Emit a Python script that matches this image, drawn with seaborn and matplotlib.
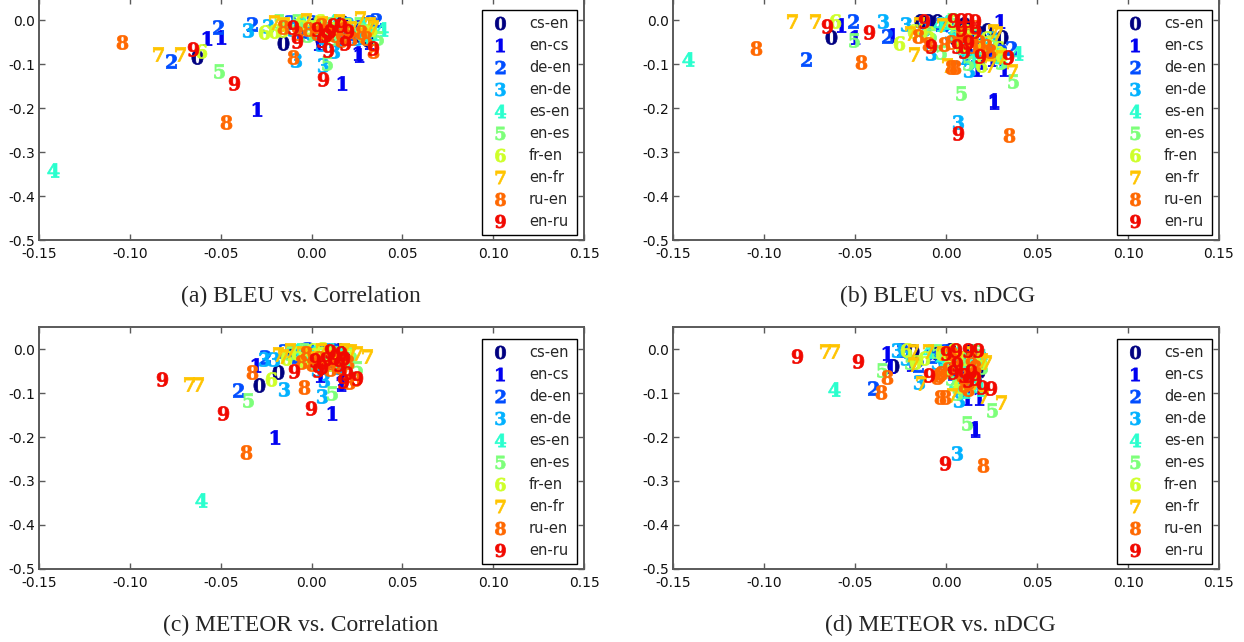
import matplotlib
matplotlib.use("Agg")
import matplotlib.pyplot as plt
from matplotlib.lines import Line2D
import seaborn as sns
import pandas as pd

# language pairs, in digit order 0-9
PAIRS = ["cs-en", "en-cs", "de-en", "en-de", "es-en",
         "en-es", "fr-en", "en-fr", "ru-en", "en-ru"]

CAPTIONS = ["(a) BLEU vs. Correlation", "(b) BLEU vs. nDCG",
            "(c) METEOR vs. Correlation", "(d) METEOR vs. nDCG"]

X_TICKS = [-0.15, -0.10, -0.05, 0.00, 0.05, 0.10, 0.15]
Y_TICKS = [-0.5, -0.4, -0.3, -0.2, -0.1, 0.0]

# (x, y) points per language pair for each panel
BLEU_CORR = {
    0: [(-0.063, -0.083), (-0.0155, -0.052), (-0.0063, -0.019), (0.002, -0.008), (0.008, -0.030),
        (0.014, -0.015), (0.020, -0.025), (0.026, -0.035), (0.031, -0.045), (0.005, -0.045),
        (0.017, -0.005), (0.030, -0.010)],
    1: [(-0.0577, -0.042), (-0.050, -0.0375), (-0.0298, -0.203), (0.0166, -0.144), (0.0258, -0.076),
        (0.0037, -0.053), (0.0318, -0.049), (0.020, -0.040), (0.010, -0.030), (0.025, -0.015),
        (-0.005, -0.010), (0.026, -0.079), (0.015, -0.020)],
    2: [(-0.0775, -0.0925), (-0.0513, -0.017), (-0.0329, -0.010), (0.0355, 0.0), (-0.012, -0.005),
        (0.000, -0.005), (0.010, -0.020), (0.022, -0.030), (0.028, -0.025), (0.015, -0.040),
        (-0.005, -0.025), (0.033, -0.005)],
    3: [(-0.0348, -0.023), (-0.0238, -0.014), (-0.0085, -0.090), (0.0065, -0.102), (0.0125, -0.070),
        (0.005, -0.055), (0.015, -0.045), (-0.010, -0.020), (0.000, -0.030), (0.025, -0.040),
        (0.020, -0.010), (0.030, -0.030)],
    4: [(-0.1423, -0.341), (0.0386, -0.021), (0.034, -0.030), (-0.005, -0.005), (0.005, -0.010),
        (0.012, -0.003), (0.020, -0.020), (0.028, -0.012), (-0.015, -0.008), (0.003, -0.025),
        (0.030, -0.040)],
    5: [(-0.0509, -0.117), (0.0084, -0.098), (0.0368, -0.042), (-0.018, -0.003), (-0.008, -0.002),
        (0.002, -0.015), (0.010, -0.008), (0.018, -0.030), (0.026, -0.008), (0.030, -0.025),
        (0.012, -0.040), (-0.002, -0.035)],
    6: [(-0.0608, -0.070), (-0.0261, -0.028), (-0.0206, -0.025), (-0.016, -0.022), (-0.006, -0.005),
        (0.004, -0.002), (0.012, -0.020), (0.019, -0.012), (0.027, -0.030), (0.033, -0.020),
        (0.008, -0.035), (-0.002, -0.015)],
    7: [(-0.0843, -0.078), (-0.0724, -0.078), (-0.0206, -0.004), (0.0267, 0.004), (-0.015, -0.008),
        (-0.003, 0.000), (0.006, -0.006), (0.015, -0.003), (0.022, -0.018), (0.032, -0.008),
        (0.028, -0.035), (0.010, -0.028), (0.034, -0.015)],
    8: [(-0.1045, -0.049), (-0.047, -0.231), (-0.0159, -0.017), (-0.0103, -0.085), (0.0337, -0.071),
        (-0.002, -0.020), (0.003, -0.030), (0.008, -0.025), (0.013, -0.035), (0.018, -0.020),
        (0.022, -0.040), (0.027, -0.028), (0.005, -0.012), (0.016, -0.045), (0.030, -0.040),
        (-0.008, -0.030)],
    9: [(-0.0654, -0.066), (-0.0427, -0.144), (-0.010, -0.017), (-0.0081, -0.048), (0.0065, -0.133),
        (0.0092, -0.068), (0.0184, -0.053), (0.0337, -0.064), (0.012, -0.011), (0.016, -0.012),
        (0.008, -0.035), (0.006, -0.045), (0.010, -0.025), (0.020, -0.025), (0.003, -0.020)],
}

BLEU_NDCG = {
    0: [(-0.0632, -0.038), (-0.0142, -0.002), (-0.0097, -0.002), (-0.005, -0.002), (0.0227, -0.023),
        (0.0305, -0.038), (0.010, -0.010), (0.018, -0.030), (0.005, -0.040), (0.015, -0.060),
        (0.025, -0.070)],
    1: [(-0.0575, -0.011), (-0.050, -0.038), (-0.0296, -0.034), (0.0263, -0.182), (0.0265, -0.186),
        (0.0172, -0.112), (0.0318, -0.112), (0.0296, -0.002), (0.020, -0.095), (-0.010, -0.015),
        (0.005, -0.020), (0.015, -0.045), (0.0255, -0.088)],
    2: [(-0.0770, -0.089), (-0.0513, -0.002), (-0.0324, -0.036), (0.0359, -0.063), (0.0117, -0.084),
        (-0.003, -0.010), (0.008, -0.020), (0.018, -0.040), (0.025, -0.075), (0.012, -0.060),
        (0.003, -0.035), (0.030, -0.070)],
    3: [(-0.0346, -0.002), (-0.0219, -0.010), (-0.008, -0.076), (0.0067, -0.231), (0.0126, -0.114),
        (-0.012, -0.020), (0.002, -0.030), (0.010, -0.050), (0.016, -0.070), (0.022, -0.055),
        (0.008, -0.085), (0.025, -0.040)],
    4: [(-0.1419, -0.089), (0.0388, -0.076), (0.0304, -0.090), (0.0144, -0.092), (-0.004, -0.010),
        (0.005, -0.025), (0.012, -0.045), (0.020, -0.060), (0.010, -0.070), (0.028, -0.080),
        (0.000, -0.005)],
    5: [(-0.0507, -0.045), (-0.0026, -0.073), (0.0084, -0.167), (0.037, -0.138), (0.0035, 0.000),
        (0.005, -0.030), (0.015, -0.035), (0.020, -0.080), (0.030, -0.095), (0.012, -0.098),
        (-0.008, -0.035), (0.025, -0.050)],
    6: [(-0.0608, -0.002), (-0.026, -0.052), (-0.018, -0.025), (0.0287, -0.063), (0.019, -0.102),
        (-0.010, -0.030), (0.004, -0.005), (0.010, -0.025), (0.017, -0.050), (0.022, -0.040),
        (0.008, -0.060), (0.030, -0.080)],
    7: [(-0.0847, -0.002), (-0.0718, -0.002), (-0.0177, -0.077), (0.0007, -0.102), (0.0241, -0.102),
        (0.0364, -0.115), (0.026, -0.025), (0.028, -0.030), (-0.015, -0.010), (-0.020, -0.030),
        (-0.002, -0.012), (0.012, -0.030), (0.020, -0.070), (0.030, -0.085)],
    8: [(-0.1043, -0.064), (-0.0467, -0.096), (-0.0153, -0.036), (0.0025, -0.106), (0.0052, -0.106),
        (0.0346, -0.261), (-0.010, -0.055), (-0.001, -0.055), (0.003, -0.050), (0.010, -0.045),
        (0.014, -0.058), (0.018, -0.050), (0.022, -0.060), (0.024, -0.070), (0.008, -0.035),
        (0.016, -0.015)],
    9: [(-0.0652, -0.014), (-0.0425, -0.027), (-0.008, -0.060), (0.0067, -0.256), (0.034, -0.085),
        (0.0188, -0.082), (-0.012, -0.002), (0.004, 0.000), (0.008, 0.000), (0.012, 0.000),
        (0.016, -0.002), (0.006, -0.060), (0.010, -0.070), (0.008, -0.020), (0.012, -0.050),
        (0.016, -0.025)],
}

METEOR_CORR = {
    0: [(-0.0289, -0.082), (-0.0186, -0.052), (-0.005, -0.002), (0.005, -0.005), (0.010, -0.010),
        (0.015, -0.002), (0.000, -0.015), (0.012, -0.025), (-0.010, -0.010), (0.018, -0.020)],
    1: [(-0.0305, -0.036), (-0.0201, -0.199), (0.0111, -0.146), (0.0161, -0.074), (0.0045, -0.058),
        (0.017, -0.065), (0.008, -0.020), (-0.005, -0.010), (0.014, -0.005), (0.016, -0.080),
        (0.002, -0.030)],
    2: [(-0.0403, -0.093), (-0.0256, -0.019), (-0.015, -0.005), (-0.002, 0.000), (0.006, -0.008),
        (0.012, -0.003), (0.017, -0.015), (0.004, -0.025), (-0.008, -0.015), (0.010, -0.035)],
    3: [(-0.026, -0.023), (-0.0205, -0.023), (-0.0150, -0.092), (0.006, -0.107), (0.0069, -0.070),
        (-0.010, -0.005), (0.000, -0.010), (0.008, -0.002), (0.014, -0.040), (0.018, -0.030),
        (0.003, -0.045)],
    4: [(-0.0611, -0.343), (-0.008, -0.003), (0.002, -0.005), (0.010, -0.002), (0.015, -0.012),
        (-0.003, -0.020), (0.007, -0.015), (0.018, -0.008), (0.012, -0.030)],
    5: [(-0.0351, -0.117), (0.0111, -0.101), (0.0252, -0.044), (-0.012, -0.008), (-0.004, -0.002),
        (0.004, -0.012), (0.012, -0.010), (0.018, -0.025), (0.000, -0.030), (0.022, -0.012)],
    6: [(-0.0223, -0.069), (-0.014, -0.020), (-0.008, -0.010), (0.000, -0.003), (0.008, -0.012),
        (0.015, -0.020), (0.020, -0.005), (-0.004, -0.028), (0.010, -0.035), (0.005, 0.000)],
    7: [(-0.0672, -0.080), (-0.0623, -0.080), (-0.0183, -0.012), (-0.0156, -0.017), (0.0304, -0.016),
        (0.022, -0.005), (-0.012, -0.002), (-0.005, -0.008), (0.005, -0.003), (0.012, -0.018),
        (0.018, -0.002), (0.025, -0.010), (0.000, -0.020)],
    8: [(-0.0329, -0.052), (-0.036, -0.234), (-0.004, -0.086), (0.0206, -0.076), (-0.006, -0.030),
        (0.000, -0.035), (0.004, -0.020), (0.008, -0.028), (0.013, -0.015), (0.016, -0.040),
        (0.020, -0.030), (-0.003, -0.010), (0.010, -0.045), (0.024, -0.068)],
    9: [(-0.0821, -0.069), (-0.0485, -0.146), (-0.0096, -0.049), (-0.0003, -0.135), (0.0038, -0.048),
        (0.0194, -0.055), (0.0249, -0.067), (0.0175, -0.072), (0.002, -0.025), (0.008, -0.022),
        (0.013, -0.018), (0.016, -0.008), (0.018, -0.020), (0.006, -0.040), (0.015, -0.035),
        (0.010, -0.005)],
}

METEOR_NDCG = {
    0: [(-0.029, -0.039), (-0.0184, -0.005), (0.002, -0.002), (0.008, -0.020), (0.014, -0.030),
        (0.010, -0.080), (0.004, -0.045), (0.018, -0.050), (-0.005, -0.010), (0.013, -0.005)],
    1: [(-0.0324, -0.010), (-0.031, -0.039), (-0.0195, -0.033), (0.0117, -0.112), (0.018, -0.112),
        (0.0159, -0.184), (0.016, -0.180), (0.010, -0.040), (0.016, -0.030), (0.005, -0.015),
        (0.013, -0.060), (0.018, -0.085)],
    2: [(-0.0401, -0.089), (-0.0242, -0.002), (-0.0152, -0.036), (-0.008, -0.015), (0.000, -0.005),
        (0.008, -0.030), (0.015, -0.040), (0.011, -0.070), (0.004, -0.055), (0.019, -0.020)],
    3: [(-0.027, -0.002), (-0.022, -0.020), (-0.015, -0.074), (0.0074, -0.117), (0.0062, -0.237),
        (-0.005, -0.030), (0.003, -0.015), (0.010, -0.050), (0.008, -0.095), (0.015, -0.070),
        (0.018, -0.030)],
    4: [(-0.0614, -0.091), (0.018, -0.091), (-0.010, -0.005), (-0.002, -0.020), (0.006, -0.010),
        (0.012, -0.035), (0.016, -0.060), (0.005, -0.080), (0.019, -0.015), (0.010, -0.095)],
    5: [(-0.0351, -0.048), (0.0117, -0.169), (0.0254, -0.139), (-0.020, -0.030), (-0.005, -0.005),
        (0.003, -0.065), (0.008, -0.025), (0.014, -0.050), (0.020, -0.040), (0.006, -0.100),
        (0.017, -0.005)],
    6: [(-0.022, -0.002), (-0.017, -0.030), (-0.012, -0.020), (-0.003, -0.010), (0.004, -0.002),
        (0.010, -0.020), (0.015, -0.045), (0.007, -0.085), (0.019, -0.030), (0.001, -0.040)],
    7: [(-0.0663, -0.004), (-0.0617, -0.004), (-0.0137, -0.078), (0.0031, -0.105), (0.0205, -0.107),
        (0.0304, -0.120), (-0.018, -0.033), (-0.010, -0.005), (-0.002, -0.008), (0.006, -0.020),
        (0.012, -0.008), (0.020, -0.025), (0.022, -0.030), (0.016, -0.075), (-0.018, -0.005)],
    8: [(-0.0324, -0.064), (-0.0357, -0.097), (-0.0034, -0.110), (-0.0003, -0.110), (0.0205, -0.264),
        (-0.004, -0.060), (-0.003, -0.055), (-0.005, -0.064), (0.001, -0.045), (0.005, -0.030),
        (0.009, -0.060), (0.012, -0.075), (0.016, -0.040), (0.012, -0.090), (0.003, -0.010),
        (0.014, -0.020), (0.010, -0.082)],
    9: [(-0.0819, -0.016), (-0.0483, -0.027), (-0.0095, -0.058), (-0.0003, -0.260), (0.0199, -0.086),
        (0.0249, -0.088), (0.012, -0.070), (0.004, -0.052), (0.0057, -0.002), (0.0121, -0.002),
        (0.0176, -0.002), (0.014, -0.050), (0.010, -0.058), (0.016, -0.065), (0.006, -0.035),
        (0.000, -0.010)],
}

PANELS = [BLEU_CORR, BLEU_NDCG, METEOR_CORR, METEOR_NDCG]

sns.set_theme(style="ticks")
plt.rcParams["font.family"] = ["DejaVu Sans"]
plt.rcParams["mathtext.fontset"] = "dejavuserif"

W, H = 1244, 642
fig = plt.figure(figsize=(W / 100, H / 100), dpi=100)

# axes boxes in pixels: left, top, right, bottom
BOXES = [(39, -2, 584, 240), (673, -2, 1219, 240),
         (39, 327, 584, 569), (673, 327, 1219, 569)]
CAPTION_POS = [(301, 296), (938, 296), (301, 625), (940, 625)]

cmap = plt.get_cmap("jet")
colors = [cmap(i / 10) for i in range(10)]
markers = [r"$\mathbf{%d}$" % i for i in range(10)]
SPINE = "#5a5a5a"

for panel, box, cap, cpos in zip(PANELS, BOXES, CAPTIONS, CAPTION_POS):
    l, t, r, b = box
    ax = fig.add_axes([l / W, 1 - b / H, (r - l) / W, (b - t) / H])
    rows = [(k, PAIRS[k], x, y) for k in range(10) for (x, y) in panel[k]]
    df = pd.DataFrame(rows, columns=["digit", "pair", "x", "y"])
    for k in range(10):
        sub = df[df["digit"] == k]
        sns.scatterplot(data=sub, x="x", y="y", color=colors[k], marker=markers[k],
                        s=105, linewidth=0.5, edgecolor=colors[k], legend=False, ax=ax)
    ax.set_xlim(-0.15, 0.15)
    ax.set_ylim(-0.5, 0.05)
    ax.set_xticks(X_TICKS)
    ax.set_yticks(Y_TICKS)
    ax.set_xticklabels(["%.2f" % v if v != 0 else "0.00" for v in X_TICKS])
    ax.set_yticklabels(["%.1f" % v if v != 0 else "0.0" for v in Y_TICKS])
    ax.set_xlabel("")
    ax.set_ylabel("")
    for s in ax.spines.values():
        s.set_visible(True)
        s.set_color(SPINE)
        s.set_linewidth(1.4)
    ax.tick_params(direction="in", length=4, width=1, color=SPINE, top=True, right=True,
                   labelsize=10, labelcolor="#111111")
    ax.tick_params(axis="x", pad=5)
    ax.tick_params(axis="y", pad=3)
    handles = [Line2D([], [], linestyle="none", marker=markers[k], color=colors[k],
                      markersize=9.5, markeredgewidth=0.5, markeredgecolor=colors[k])
               for k in range(10)]
    leg = ax.legend(handles, PAIRS, loc="upper right", bbox_to_anchor=(0.987, 0.95),
                    fontsize=10.5, frameon=True, fancybox=False, framealpha=1,
                    edgecolor="black", labelspacing=0.48, handletextpad=1.1,
                    borderpad=0.42, handlelength=1.7, borderaxespad=0)
    leg.get_frame().set_linewidth(1.0)
    fig.text(cpos[0] / W, 1 - cpos[1] / H, cap, ha="center", va="center",
             fontsize=17, family=["Liberation Serif"])

fig.savefig("out.png", dpi=100)
